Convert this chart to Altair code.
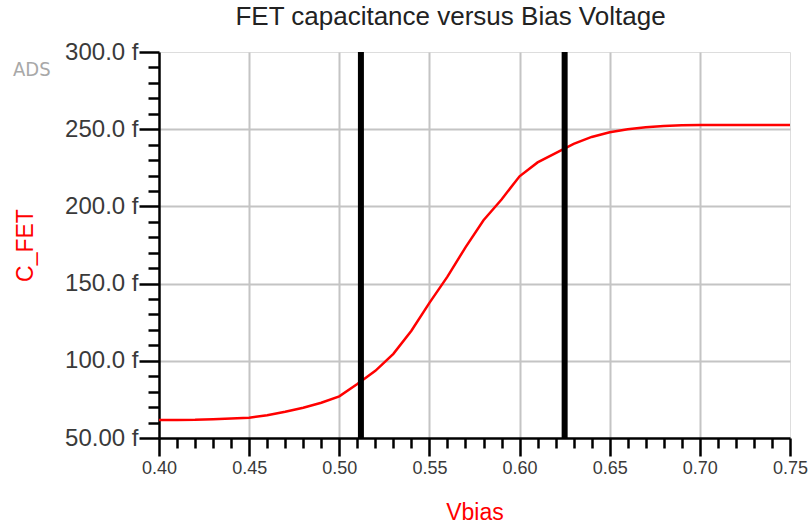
import altair as alt
import pandas as pd

# data
vbias = [0.40, 0.41, 0.42, 0.43, 0.44, 0.45, 0.46, 0.47, 0.48, 0.49,
         0.50, 0.51, 0.52, 0.53, 0.54, 0.55, 0.56, 0.57, 0.58, 0.59,
         0.60, 0.61, 0.62, 0.63, 0.64, 0.65, 0.66, 0.67, 0.68, 0.69,
         0.70, 0.71, 0.72, 0.73, 0.74, 0.75]
c_fet = [61.6, 61.7, 61.8, 62.2, 62.6, 63.1, 64.8, 67.0, 69.6, 72.8,
         77.0, 85.0, 93.5, 104.5, 119.5, 137.5, 154.5, 173.5, 191.0, 204.5,
         219.5, 228.5, 234.5, 240.5, 245.0, 248.0, 250.0, 251.2, 252.0, 252.5,
         252.7, 252.7, 252.7, 252.7, 252.7, 252.7]
markers = [0.512, 0.625]

x_ticks = [round(0.40 + 0.01 * i, 2) for i in range(36)]
y_ticks = [50 + 10 * i for i in range(26)]

FONT = "Liberation Sans"
RED = "#ff0000"

df = pd.DataFrame({"Vbias": vbias, "C_FET": c_fet})
dm = pd.DataFrame({"Vbias": markers})
dt = pd.DataFrame({"t": ["ADS"]})

x_major = "abs(round(datum.value*100) % 5) == 0"
y_major = "datum.value % 50 == 0"

x_axis = alt.Axis(
    values=x_ticks,
    labelExpr=f"{x_major} ? format(datum.value, '.2f') : ''",
    tickSize={"condition": {"test": x_major, "value": 18}, "value": 10},
    gridOpacity={"condition": {"test": f"{x_major} && datum.value > 0.405 && datum.value < 0.745", "value": 1}, "value": 0},
    grid=True, gridColor="#c4c4c4", gridWidth=2,
    domainColor="black", domainWidth=2.5,
    tickColor="black", tickWidth=2.5,
    labelFont=FONT, labelFontSize=18, labelColor="#3a3a3a",
    labelPadding=3, labelFlush=False, labelOverlap=False,
    title="Vbias", titleFont=FONT, titleFontSize=23, titleColor=RED,
    titleFontWeight="normal", titleX=315.5, titleY=81,
    titleAlign="center", titleBaseline="alphabetic",
)

y_axis = alt.Axis(
    values=y_ticks,
    labelExpr=f"{y_major} ? (datum.value == 50 ? '50.00 f' : format(datum.value, '.1f') + ' f') : ''",
    tickSize={"condition": {"test": y_major, "value": 20}, "value": 11},
    gridOpacity={"condition": {"test": f"{y_major} && datum.value > 55 && datum.value < 295", "value": 1}, "value": 0},
    grid=True, gridColor="#c4c4c4", gridWidth=2,
    domainColor="black", domainWidth=2.5,
    tickColor="black", tickWidth=2.5,
    labelFont=FONT, labelFontSize=24, labelColor="#3a3a3a",
    labelPadding=1, labelFlush=False, labelOverlap=False,
    title="C_FET", titleFont=FONT, titleFontSize=23, titleColor=RED,
    titleFontWeight="normal", titleAngle=-90, titleX=-134, titleY=193,
    titleAlign="center", titleBaseline="middle",
)

x_scale = alt.Scale(domain=[0.40, 0.75], nice=False, zero=False)

line = alt.Chart(df).mark_line(color=RED, strokeWidth=2.5).encode(
    x=alt.X("Vbias:Q", scale=x_scale, axis=x_axis),
    y=alt.Y("C_FET:Q", scale=alt.Scale(domain=[50, 300], nice=False, zero=False), axis=y_axis),
)

rules = alt.Chart(dm).mark_rule(color="black", strokeWidth=6).encode(
    x=alt.X("Vbias:Q", scale=x_scale, axis=x_axis),
)

ads = alt.Chart(dt).mark_text(
    font="Liberation Sans Narrow, DejaVu Sans Condensed, Liberation Sans",
    fontSize=20, color="#a8a8a8", align="left", baseline="middle",
).encode(
    x=alt.value(-146), y=alt.value(17.5), text="t:N",
)

chart = alt.layer(line, rules, ads).properties(
    width=631,
    height=386,
    autosize=alt.AutoSizeParams(type="none"),
    padding={"left": 159, "top": 52, "right": 20, "bottom": 88},
    title=alt.TitleParams(
        "FET capacitance versus Bias Voltage",
        font=FONT, fontSize=26, fontWeight="normal", color="#222222",
        anchor="middle", frame="group", dx=-24, offset=-11, baseline="alphabetic",
    ),
).configure_view(stroke="black", strokeWidth=2.5).configure(background="white")

chart.save("out.html", embed_options={"renderer": "svg", "actions": False})
